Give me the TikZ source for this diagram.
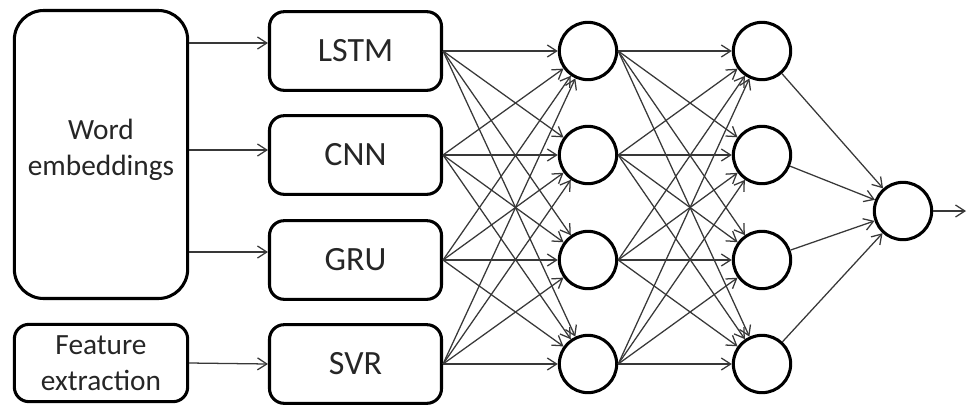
\documentclass[tikz,border=0pt]{standalone}
\usepackage{fontspec}
\setmainfont{Carlito}
\usetikzlibrary{arrows.meta}
\begin{document}
\begin{tikzpicture}[x=0.75pt,y=-0.75pt,
  box/.style={draw, line width=2.3pt, rounded corners=11pt, align=center,
    inner sep=0pt, text=black!85},
  neuron/.style={draw, circle, line width=2.3pt, minimum size=43pt, inner sep=0pt},
  conn/.style={draw=black!78, line width=0.95pt,
    -{Straight Barb[length=7pt,width=9pt,line width=0.95pt]}}]
\useasboundingbox (0,0) rectangle (967,405);

% input boxes
\node[box, rounded corners=22pt, minimum width=130pt, minimum height=216pt]
  (wemb) at (101,154.5) {};
\node[font=\fontsize{22}{27}\selectfont, align=center, text=black!85]
  (wembtext) at (101,149.5) {Word\\embeddings};
\node[box, minimum width=130pt, minimum height=58pt,
  font=\fontsize{22}{27}\selectfont] (fext) at (101,363) {Feature\\extraction};

% model boxes
\foreach \n/\t/\y in {lstm/LSTM/51, cnn/CNN/155, gru/GRU/260, svr/SVR/364}
  \node[box, minimum width=129pt, minimum height=59pt,
    font=\fontsize{25.5}{30}\selectfont] (\n) at (355.5,\y) {\t};

% hidden layers and output neuron
\foreach \i/\y in {1/51, 2/155, 3/260, 4/364} {
  \node[neuron] (h\i) at (588,\y) {};
  \node[neuron] (k\i) at (762,\y) {};
}
\node[neuron] (out) at (903,211) {};
\coordinate (end) at (966,211);

% inputs into the models
\draw[conn] (wemb.east |- 0,43) -- (lstm.west |- 0,43);
\draw[conn] (wemb.east |- 0,150) -- (cnn.west |- 0,150);
\draw[conn] (wemb.east |- 0,252) -- (gru.west |- 0,252);
\draw[conn] (fext.east) -- (svr.west);

% models to first hidden layer
\foreach \n in {lstm, cnn, gru, svr}
  \foreach \j in {1,...,4}
    \draw[conn] (\n.east) -- (h\j);

% first hidden layer to second hidden layer
\foreach \i in {1,...,4}
  \foreach \j in {1,...,4}
    \draw[conn] (h\i.east) -- (k\j);

% second hidden layer to output
\foreach \i in {1,...,4}
  \draw[conn] (k\i) -- (out);
\draw[conn] (out.east) -- (end);
\end{tikzpicture}
\end{document}
